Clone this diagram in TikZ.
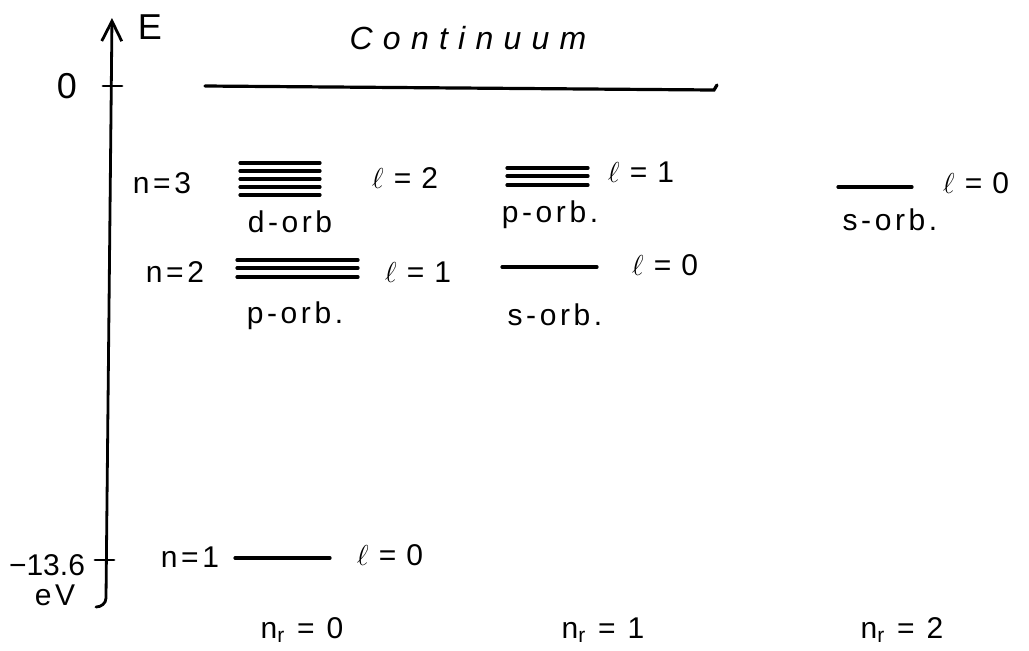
\documentclass[tikz,border=0pt]{standalone}
\usepackage{fontspec}
\setmainfont{Liberation Sans}
\newfontfamily\handfont[LetterSpace=12]{Liberation Sans}
\newfontfamily\handwide[LetterSpace=32]{Liberation Sans}
\usetikzlibrary{arrows.meta}
\newcommand{\ellq}[1]{$\ell$\hspace{5pt}=\hspace{5pt}#1}
\begin{document}
\begin{tikzpicture}[x=0.5pt,y=-0.5pt,
  lbl/.style={inner sep=0pt,font=\fontsize{15}{17}\handfont},
  big/.style={inner sep=0pt,font=\fontsize{18}{20}\handfont},
  lvl/.style={line width=1.6pt,line cap=round},
  ax/.style={line width=1.4pt,line cap=round}]
\useasboundingbox (0,0) rectangle (1029,650);
% axis
\coordinate (hook) at (96,607);
\coordinate (abot) at (106,598);
\coordinate (atop) at (112,18);
\draw[ax,-{Straight Barb[length=10pt,width=10pt,line width=1.4pt]}] (hook) to[out=0,in=-90] (abot) -- (atop);
\node[big] (E) at (150,27) {E};
% tick 0
\coordinate (t0a) at (103,86); \coordinate (t0b) at (122,86);
\draw[ax] (t0a) -- (t0b);
\node[big] (zero) at (67,86) {0};
% tick -13.6
\coordinate (t1a) at (95,560); \coordinate (t1b) at (114,560);
\draw[ax] (t1a) -- (t1b);
\node[inner sep=0pt,font=\fontsize{15}{17}\selectfont] (m136) at (47,565) {−13.6};
\node[lbl] (eV) at (55,595) {eV};
% continuum
\coordinate (ca) at (205,86); \coordinate (cb) at (714,90); \coordinate (cc) at (717,85);
\draw[lvl] (ca) -- (cb) -- (cc);
\node[inner sep=0pt,font=\fontsize{16}{18}\handwide\itshape] (cont) at (468,38) {Continuum};
% n=3 row
\node[lbl] (n3) at (162,183) {n=3};
\foreach \y in {163,171,179,187,195} \draw[lvl] (240,\y) -- (320,\y);
\node[lbl] (l2) at (405,178) {\ellq{2}};
\node[lbl] (dorb) at (290,222) {d-orb};
\foreach \y in {168,176,185} \draw[lvl] (507,\y) -- (588,\y);
\node[lbl] (l1a) at (641,172) {\ellq{1}};
\node[lbl] (porba) at (550,215) {p-orb.};
\coordinate (s3a) at (838,187); \coordinate (s3b) at (912,187);
\draw[lvl] (s3a) -- (s3b);
\node[lbl] (l0a) at (976,183) {\ellq{0}};
\node[lbl] (sorba) at (890,220) {s-orb.};
% n=2 row
\node[lbl] (n2) at (175,272) {n=2};
\foreach \y in {260,268,277} \draw[lvl] (237,\y) -- (358,\y);
\node[lbl] (l1b) at (418,272) {\ellq{1}};
\coordinate (s2a) at (502,267); \coordinate (s2b) at (597,267);
\draw[lvl] (s2a) -- (s2b);
\node[lbl] (l0b) at (665,265) {\ellq{0}};
\node[lbl] (porbb) at (295,316) {p-orb.};
\node[lbl] (sorbb) at (555,315) {s-orb.};
% n=1 row
\node[lbl] (n1) at (190,557) {n=1};
\coordinate (s1a) at (235,558); \coordinate (s1b) at (330,558);
\draw[lvl] (s1a) -- (s1b);
\node[lbl] (l0c) at (390,555) {\ellq{0}};
% n_r labels
\node[lbl] (nr0) at (302,630) {n\textsubscript{r} = 0};
\node[lbl] (nr1) at (603,630) {n\textsubscript{r} = 1};
\node[lbl] (nr2) at (902,630) {n\textsubscript{r} = 2};
\end{tikzpicture}
\end{document}
